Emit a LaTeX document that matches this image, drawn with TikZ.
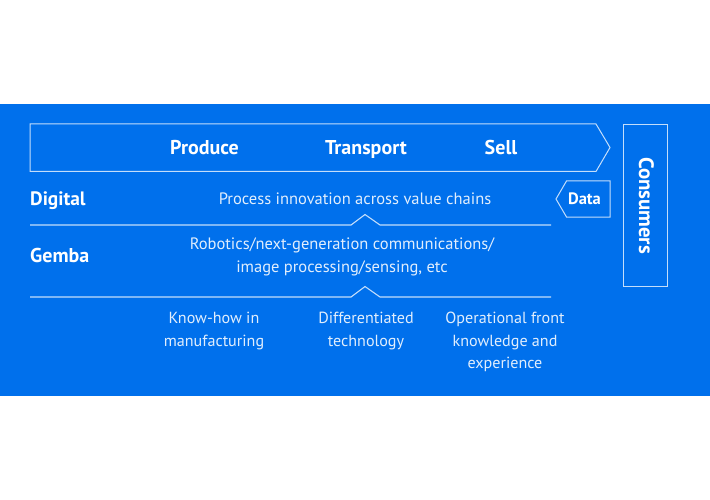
\documentclass[tikz,border=0pt]{standalone}
\usepackage{fontspec}
\setmainfont{PT Sans}
\definecolor{bandblue}{HTML}{0070EC}
\definecolor{linew}{HTML}{C4DEFB}
\tikzset{
  outl/.style={draw=linew,line width=1pt,line join=miter},
  rule/.style={draw=linew,line width=1.1pt},
  head/.style={text=white,font=\fontsize{20}{24}\selectfont\bfseries,inner sep=0pt,anchor=base},
  body/.style={text=linew!50!white,font=\fontsize{16.5}{22.5}\selectfont,inner sep=0pt,align=center},
  lowbody/.style={body,font=\fontsize{16.1}{22.5}\selectfont}
}
\begin{document}
\begin{tikzpicture}[x=1pt,y=-1pt]
\useasboundingbox (0,0) rectangle (710,500);
\fill[bandblue] (0,104) rectangle (710,396);
\coordinate (a1) at (30,124);
\coordinate (a2) at (596,124);
\coordinate (a3) at (610,147.5);
\coordinate (a4) at (596,171.5);
\coordinate (a5) at (30,171.5);
\draw[outl] (a1) -- (a2) -- (a3) -- (a4) -- (a5) -- cycle;
\coordinate (d1) at (610,181);
\coordinate (d2) at (566.5,181);
\coordinate (d3) at (556,199);
\coordinate (d4) at (566.5,217);
\coordinate (d5) at (610,217);
\draw[outl] (d1) -- (d2) -- (d3) -- (d4) -- (d5) -- cycle;
\node[outl,minimum width=44pt,minimum height=162pt,inner sep=0pt,anchor=north west] (cons) at (623,124) {};
\node[head,rotate=-90,font=\fontsize{20.8}{24}\selectfont\bfseries] (conslabel) at (639,205.5) {Consumers};
\node[head] (produce) at (204.5,155) {Produce};
\node[head] (transport) at (366,155) {Transport};
\node[head] (sell) at (501,155) {Sell};
\node[head,anchor=base west,font=\fontsize{19.4}{24}\selectfont\bfseries] (digital) at (30,206) {Digital};
\node[head,anchor=base west] (gemba) at (30,262) {Gemba};
\node[head,font=\fontsize{16.5}{20}\selectfont\bfseries] (data) at (584.5,204.5) {Data};
\node[body] (process) at (355,198.5) {Process innovation across value chains};
\node[body] (robotics) at (342,257) {Robotics/next-generation communications/\\image processing/sensing, etc};
\node[lowbody] (knowhow) at (214,331) {Know-how in\\manufacturing};
\node[lowbody] (diff) at (366,331) {Differentiated\\technology};
\node[lowbody] (front) at (505,342) {Operational front\\knowledge and\\experience};
\coordinate (r1a) at (30,225);
\coordinate (r1b) at (351,225);
\coordinate (r1c) at (365,214.5);
\coordinate (r1d) at (380,225);
\coordinate (r1e) at (551,225);
\draw[rule] (r1a) -- (r1b) -- (r1c) -- (r1d) -- (r1e);
\coordinate (r2a) at (30,297);
\coordinate (r2b) at (351,297);
\coordinate (r2c) at (365,286.5);
\coordinate (r2d) at (380,297);
\coordinate (r2e) at (551,297);
\draw[rule] (r2a) -- (r2b) -- (r2c) -- (r2d) -- (r2e);
\end{tikzpicture}
\end{document}
